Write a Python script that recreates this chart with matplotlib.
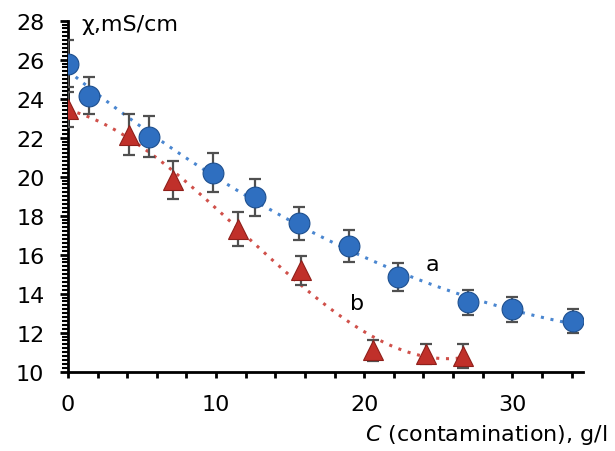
import numpy as np
import matplotlib
matplotlib.use("Agg")
import matplotlib.pyplot as plt
from matplotlib.ticker import MultipleLocator, FuncFormatter

plt.rcParams["font.family"] = ["DejaVu Sans"]

# series a (blue circles)
x_a = [0.0, 1.4, 5.5, 9.8, 12.6, 15.6, 19.0, 22.3, 27.0, 30.0, 34.1]
y_a = [25.8, 24.15, 22.05, 20.2, 18.95, 17.6, 16.45, 14.85, 13.55, 13.2, 12.6]
err_a = [1.2, 0.95, 1.05, 1.0, 0.95, 0.85, 0.8, 0.7, 0.65, 0.65, 0.6]

# series b (red triangles)
x_b = [0.0, 4.1, 7.1, 11.5, 15.7, 20.6, 24.2, 26.7]
y_b = [23.45, 22.15, 19.85, 17.3, 15.2, 11.1, 10.9, 10.8]
err_b = [0.9, 1.05, 0.97, 0.87, 0.75, 0.55, 0.5, 0.6]

fig = plt.figure(figsize=(6.15, 4.52), dpi=100)
ax = fig.add_axes([0.1106, 0.1755, 0.838, 0.7765])

# polynomial trend lines (as in a spreadsheet trendline)
xa_fit = np.linspace(min(x_a), max(x_a), 200)
pa = np.polyfit(x_a, y_a, 2)
ax.plot(xa_fit, np.polyval(pa, xa_fit), ls=(0, (1, 2.2)), lw=2.2,
        color="#4a86d0", zorder=2)
xb_fit = np.linspace(min(x_b), max(x_b), 200)
pb = np.polyfit(x_b, y_b, 3)
ax.plot(xb_fit, np.polyval(pb, xb_fit), ls=(0, (1, 2.2)), lw=2.2,
        color="#d0504a", zorder=2)

ax.errorbar(x_a, y_a, yerr=err_a, fmt="none", ecolor="#505050",
            elinewidth=1.6, capsize=4.5, capthick=1.6, zorder=3)
ax.errorbar(x_b, y_b, yerr=err_b, fmt="none", ecolor="#505050",
            elinewidth=1.6, capsize=4.5, capthick=1.6, zorder=3)

ax.plot(x_a, y_a, "o", ms=15, color="#2f6fc0", mec="#1d4f8f", mew=0.8,
        zorder=4)
ax.plot(x_b, y_b, "^", ms=15, color="#c0302a", mec="#8f1f1a", mew=0.8,
        zorder=4)

ax.text(24.6, 15.5, "a", fontsize=16, ha="center", va="center")
ax.text(19.5, 13.5, "b", fontsize=16, ha="center", va="center")

ax.set_xlim(0, 34.8)
ax.set_ylim(10, 28)
ax.spines["top"].set_visible(False)
ax.spines["right"].set_visible(False)
ax.spines["left"].set_linewidth(2)
ax.spines["bottom"].set_linewidth(2)

ax.xaxis.set_major_locator(MultipleLocator(2))
ax.xaxis.set_major_formatter(
    FuncFormatter(lambda v, p: "%d" % v if abs(v % 10) < 1e-6 else ""))
ax.yaxis.set_major_locator(MultipleLocator(2))
ax.yaxis.set_minor_locator(MultipleLocator(0.2))
ax.tick_params(axis="x", which="major", direction="out", length=4,
               width=2, labelsize=16, pad=12)
ax.tick_params(axis="y", which="major", direction="out", length=6,
               width=2, labelsize=16, pad=11)
ax.tick_params(axis="y", which="minor", direction="out", length=4, width=1.5)

fig.text(0.133, 0.945, "χ,mS/cm", fontsize=16, ha="left", va="center")
fig.text(0.987, 0.038, "$\\it{C}$ (contamination), g/l", fontsize=16,
         ha="right", va="center")

fig.savefig("out.png", dpi=100)
